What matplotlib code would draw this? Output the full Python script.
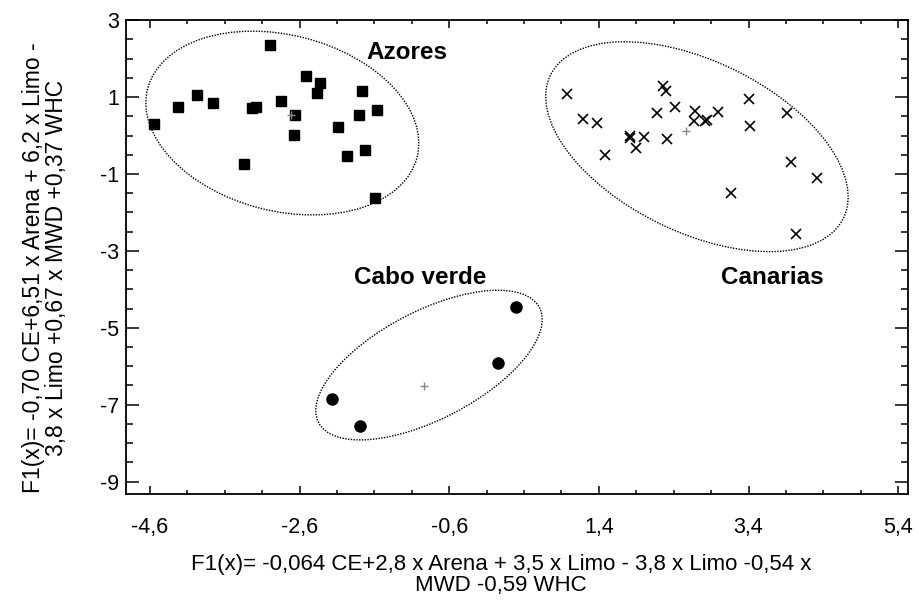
import numpy as np
import matplotlib
matplotlib.use('Agg')
import matplotlib.pyplot as plt
from matplotlib.patches import Ellipse
from matplotlib.transforms import ScaledTranslation

plt.rcParams['font.family'] = ['Liberation Sans', 'DejaVu Sans']

# Azores (cuadrados)
azores_x = [-2.99, -2.51, -2.33, -2.37, -3.97, -4.22, -3.76, -3.23, -3.18, -2.85, -2.66,
            -4.55, -2.68, -2.09, -1.77, -1.80, -1.57, -1.97, -1.73, -3.34, -1.59]
azores_y = [2.35, 1.55, 1.36, 1.10, 1.06, 0.73, 0.85, 0.71, 0.73, 0.89, 0.54,
            0.30, 0.02, 0.21, 1.16, 0.54, 0.66, -0.53, -0.38, -0.74, -1.62]

# Canarias (cruces)
canarias_x = [0.98, 1.19, 1.38, 1.48, 1.81, 1.82, 2.00, 1.90, 2.17, 2.26, 2.30, 2.42, 2.31,
              2.68, 2.67, 2.82, 2.84, 2.99, 3.40, 3.42, 3.92, 3.97, 4.31, 3.17, 4.03]
canarias_y = [1.08, 0.42, 0.33, -0.51, -0.01, -0.06, -0.05, -0.33, 0.58, 1.29, 1.17, 0.73, -0.10,
              0.64, 0.38, 0.38, 0.40, 0.61, 0.94, 0.25, 0.58, -0.70, -1.11, -1.50, -2.57]

# Cabo verde (circulos)
cabo_x = [0.29, 0.05, -2.16, -1.79]
cabo_y = [-4.47, -5.92, -6.85, -7.56]

# centroides
centro_x = [-2.71, 2.56, -0.94]
centro_y = [0.53, 0.12, -6.51]

# elipses: centro (datos), ancho/alto (pulgadas), angulo
elipses = [((-2.83, 0.325), 2.78, 1.76, -14.2),
           ((2.71, -0.29), 3.26, 1.71, -26.0),
           ((-0.87, -5.97), 2.49, 1.08, 27.5)]

grupos = ['Azores', 'Cabo verde', 'Canarias']
grupos_pos = [(-1.16, 2.17), (-0.99, -3.69), (3.72, -3.69)]

xticks = [-4.6, -2.6, -0.6, 1.4, 3.4, 5.4]
yticks = [3, 1, -1, -3, -5, -7, -9]

fig = plt.figure(figsize=(9.19, 6.12), dpi=100)
ax = fig.add_axes([0.137, 0.193, 0.851, 0.774])

ax.plot(azores_x, azores_y, 's', color='black', markersize=6.5, linestyle='none')
ax.plot(canarias_x, canarias_y, 'x', color='black', markersize=7, markeredgewidth=1.2, linestyle='none')
ax.plot(cabo_x, cabo_y, 'o', color='black', markersize=8, linestyle='none')
ax.plot(centro_x, centro_y, '+', color='#888888', markersize=6, markeredgewidth=1.0, linestyle='none')

ax.set_xlim(-4.92, 5.53)
ax.set_ylim(-9.32, 3.0)

for (cx, cy), w, h, ang in elipses:
    tr = fig.dpi_scale_trans + ScaledTranslation(cx, cy, ax.transData)
    ax.add_patch(Ellipse((0, 0), w, h, angle=ang, transform=tr, fill=False,
                         edgecolor='black', linewidth=1.0, linestyle=(0, (1, 1))))

for nombre, (gx, gy) in zip(grupos, grupos_pos):
    ax.text(gx, gy, nombre, ha='center', va='center', fontsize=17.5, fontweight='bold')

ax.set_xticks(xticks)
ax.set_xticklabels([f'{v:.1f}'.replace('.', ',') for v in xticks])
ax.set_yticks(yticks)
ax.set_yticklabels([str(v) for v in yticks])
ax.set_xticks(np.arange(-4.6, 5.5, 0.5), minor=True)
ax.set_yticks(np.arange(-9, 3.01, 0.5), minor=True)

ax.tick_params(axis='x', which='major', direction='in', length=6, width=1.1, top=True,
               labelsize=15.5, pad=17)
ax.tick_params(axis='x', which='minor', direction='in', length=3, width=1.1, top=True)
ax.tick_params(axis='y', which='major', direction='in', length=9.5, width=1.1, right=True,
               labelsize=15.5, pad=5)
ax.tick_params(axis='y', which='minor', direction='in', length=5, width=1.1, right=True)
for s in ax.spines.values():
    s.set_linewidth(1.3)

fig.text(0.049, 0.562, 'F1(x)= -0,70 CE+6,51 x Arena + 6,2 x Limo -\n3,8 x Limo +0,67 x MWD +0,37 WHC',
         rotation=90, ha='center', va='center', fontsize=16.5, linespacing=1.0, multialignment='center')
fig.text(0.545, 0.061, 'F1(x)= -0,064 CE+2,8 x Arena + 3,5 x Limo - 3,8 x Limo -0,54 x\nMWD -0,59 WHC',
         ha='center', va='center', fontsize=16, linespacing=1.0, multialignment='center')

fig.savefig('out.png', dpi=100)
